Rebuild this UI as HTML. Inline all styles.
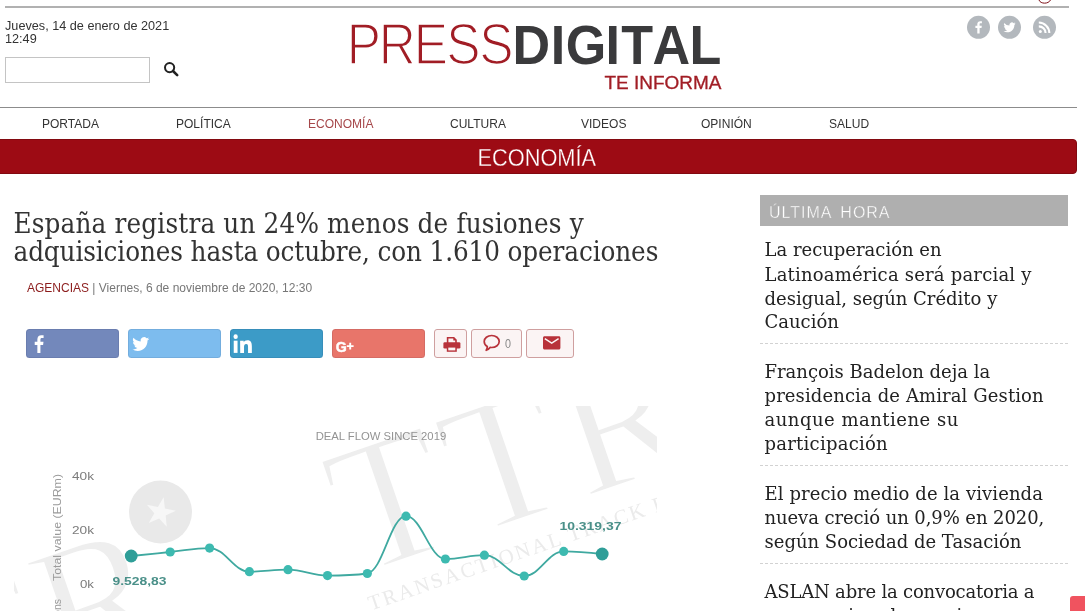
<!DOCTYPE html>
<html lang="es">
<head>
<meta charset="utf-8">
<title>España registra un 24% menos de fusiones y adquisiciones hasta octubre, con 1.610 operaciones</title>
<style>
html,body{margin:0;padding:0;background:#fff;}
body{width:1085px;height:611px;overflow:hidden;position:relative;font-family:"Liberation Sans",sans-serif;}
.abs{position:absolute;white-space:nowrap;}
.sx{transform-origin:0 50%;}
/* header */
#topline{left:5px;top:6px;width:1064px;height:2px;background:#b1b1b1;}
#date{left:5px;top:18.7px;transform:scaleX(.975);font-size:13px;line-height:13px;color:#333;}
#search{left:5px;top:57px;width:143px;height:24px;border:1px solid #c4c4c4;background:#fff;}
#navline{left:0;top:107px;width:1077px;height:1px;background:#8c8c8c;}
.nav{top:116px;font-size:13px;line-height:15px;color:#333;}
#bar{left:-2px;top:139px;width:1077px;height:33px;background:#9d0b14;border:1px solid #820910;border-radius:0 4px 4px 0;}
/* article */
.h1{left:13.5px;font-family:"DejaVu Serif Condensed","DejaVu Serif",serif;font-size:27.5px;line-height:30px;color:#333;}
#meta{left:27px;top:281px;font-size:12px;line-height:14px;color:#777;}
#meta b{font-weight:normal;color:#8c1c1c;}
.sh{top:329px;height:27px;width:91px;border-radius:3.500px;border:1px solid rgba(0,0,40,.08);}
.sb{top:329px;height:27px;border:1px solid #cf9f9f;background:#fbf4f4;border-radius:3px;}
/* sidebar */
#uh{left:760px;top:195px;width:308px;height:31px;background:#afafaf;}
.sl{left:764.5px;font-family:"DejaVu Serif",serif;font-size:18px;line-height:24px;color:#222;}
.sep{left:760px;width:308px;height:0;border-top:1px dashed #d2d2d2;}
</style>
</head>
<body>
<div class="abs" id="topline"></div>
<div class="abs sx" id="date">Jueves, 14 de enero de 2021<br>12:49</div>
<div class="abs" id="search"></div>
<div class="abs" id="navline"></div>
<div class="abs" id="bar"></div>

<!-- search icon -->
<svg class="abs" style="left:163px;top:61px" width="17" height="17" viewBox="0 0 17 17"><circle cx="6.6" cy="6.6" r="4.6" fill="none" stroke="#222" stroke-width="2"/><path d="M10 10 L14.2 14.2" stroke="#222" stroke-width="2.6" stroke-linecap="round"/></svg>
<!-- logo -->
<svg class="abs" style="left:340px;top:10px" width="400" height="90" viewBox="340 10 400 90">
<text transform="translate(0 64.200) scale(.8861 1)" x="391.320 427.400 466.990 503.620 540.810" y="0" font-family="Liberation Sans, sans-serif" font-size="58" fill="#a11d25" stroke="#fff" stroke-width="1.700" paint-order="fill stroke">PRESS</text>
<text transform="translate(0 63.500) scale(.9444 1)" x="542.780 583.210 599.110 641.130 657.710 690.850 729.990" y="0" font-family="Liberation Sans, sans-serif" font-size="55.200" font-weight="bold" fill="#3a3a3c">DIGITAL</text>
<text x="604.5" y="89.3" font-family="Liberation Sans, sans-serif" font-size="18" fill="#a11d25" stroke="#a11d25" stroke-width=".3" textLength="117" lengthAdjust="spacingAndGlyphs">TE INFORMA</text>
</svg>
<!-- social round icons -->
<svg class="abs" style="left:960px;top:10px" width="110" height="40" viewBox="960 10 110 40">
<circle cx="978.5" cy="27.3" r="11.5" fill="#b3b8bd"/>
<circle cx="1009.5" cy="27.3" r="11.5" fill="#b3b8bd"/>
<circle cx="1044.5" cy="27.3" r="11.5" fill="#b3b8bd"/>
<path d="M979.6 33.5v-5.6h1.9l.3-2.2h-2.2v-1.4c0-.6.2-1 1.100-1h1.200v-2c-.2 0-.9-.1-1.700-.1-1.700 0-2.900 1-2.900 2.900v1.600h-1.900v2.200h1.900v5.600z" fill="#fff"/>
<path d="M1015.600 23.600c-.45.200-.93.330-1.430.400.520-.310.910-.800 1.100-1.380-.480.290-1.020.490-1.580.600a2.500 2.500 0 0 0-4.260 2.280 7.100 7.100 0 0 1-5.150-2.610 2.500 2.500 0 0 0 .77 3.340 2.500 2.500 0 0 1-1.130-.310v.03c0 1.210.86 2.220 2 2.450a2.500 2.500 0 0 1-1.130.04 2.500 2.500 0 0 0 2.340 1.740 5.020 5.020 0 0 1-3.700 1.030 7.080 7.080 0 0 0 3.830 1.120c4.600 0 7.110-3.810 7.110-7.110v-.32c.49-.35.910-.790 1.250-1.290z" fill="#fff"/>
<g fill="#fff"><circle cx="1040.300" cy="31.600" r="1.500"/><path d="M1038.800 25.300v2.100a5.700 5.700 0 0 1 5.700 5.700h2.100a7.800 7.800 0 0 0-7.800-7.800z"/><path d="M1038.800 21.500v2.100a9.500 9.500 0 0 1 9.500 9.500h2.100c0-6.400-5.200-11.600-11.600-11.600z"/></g>
</svg>
<!-- top right red glyph remnant -->
<svg class="abs" style="left:1030px;top:0" width="30" height="6" viewBox="0 0 30 6"><path d="M9 0 C10.500 4.200 18.500 4.200 20.500 0" fill="none" stroke="#7d1018" stroke-width="1"/></svg>
<!-- nav -->
<div class="abs nav sx" style="left:42.400px;transform:scaleX(.925)">PORTADA</div>
<div class="abs nav sx" style="left:176.200px;transform:scaleX(.925)">POLÍTICA</div>
<div class="abs nav sx" style="left:307.800px;transform:scaleX(.925);color:#a6474a">ECONOMÍA</div>
<div class="abs nav sx" style="left:449.800px;transform:scaleX(.925)">CULTURA</div>
<div class="abs nav sx" style="left:581px;transform:scaleX(.925)">VIDEOS</div>
<div class="abs nav sx" style="left:701px;transform:scaleX(.925)">OPINIÓN</div>
<div class="abs nav sx" style="left:828.600px;transform:scaleX(.925)">SALUD</div>
<svg class="abs" style="left:440px;top:139px" width="200" height="34" viewBox="440 139 200 34"><text x="477.500" y="165.900" font-family="Liberation Sans, sans-serif" font-size="24.500" fill="#fff" stroke="#9d0b14" stroke-width=".3" paint-order="fill stroke" textLength="118.500" lengthAdjust="spacingAndGlyphs">ECONOMÍA</text></svg>
<!-- headline -->
<div class="abs h1" id="h1a" style="top:207.500px;letter-spacing:.17px">España registra un 24% menos de fusiones y</div>
<div class="abs h1" id="h1b" style="top:235.700px;letter-spacing:-.11px">adquisiciones hasta octubre, con 1.610 operaciones</div>
<div class="abs" id="meta"><b>AGENCIAS</b> | Viernes, 6 de noviembre de 2020, 12:30</div>

<!-- share buttons -->
<div class="abs sh" style="left:26px;background:#7388bb"></div>
<div class="abs sh" style="left:128px;background:#7dbcee"></div>
<div class="abs sh" style="left:230px;background:#3c9bc7"></div>
<div class="abs sh" style="left:332px;background:#e8756a"></div>
<div class="abs sb" style="left:434px;width:31px"></div>
<div class="abs sb" style="left:471px;width:49px"></div>
<div class="abs sb" style="left:526px;width:46px"></div>
<svg class="abs" style="left:20px;top:325px" width="560" height="38" viewBox="20 325 560 38">
<!-- facebook f -->
<path transform="translate(39.250 343.950) scale(1.020 1.100) translate(-40.450 -344)" d="M38.600 352.300v-7.300h-2.600v-2.900h2.600v-2.200c0-2.500 1.500-3.900 3.800-3.900 1.100 0 2 .1 2.300.1v2.600h-1.600c-1.200 0-1.500.6-1.500 1.500v1.900h3l-.4 2.900h-2.600v7.300z" fill="#fff"/>
<!-- twitter bird -->
<path d="M149.200 338.800c-.62.280-1.290.460-1.990.550.720-.430 1.270-1.110 1.530-1.920-.67.400-1.410.69-2.200.84a3.470 3.470 0 0 0-5.910 3.160 9.850 9.850 0 0 1-7.150-3.620 3.470 3.470 0 0 0 1.070 4.630 3.460 3.460 0 0 1-1.570-.43v.04c0 1.680 1.200 3.080 2.780 3.400a3.480 3.480 0 0 1-1.570.06 3.470 3.470 0 0 0 3.240 2.410 6.960 6.960 0 0 1-5.130 1.430 9.820 9.820 0 0 0 5.320 1.560c6.380 0 9.870-5.290 9.870-9.870v-.45c.68-.49 1.260-1.100 1.730-1.790z" fill="#fff"/>
<!-- linkedin in -->
<g fill="#fff" transform="translate(243 343.900) scale(1.030 1.110) translate(-243 -344.200)"><rect x="234" y="341.300" width="3.700" height="11"/><circle cx="235.850" cy="337.700" r="2.100"/><path d="M240.200 341.300h3.500v1.500c.5-.9 1.700-1.800 3.500-1.800 3.700 0 4.400 2.400 4.400 5.600v5.700h-3.700v-5c0-1.300 0-2.900-1.800-2.900s-2.100 1.400-2.100 2.800v5.100h-3.700z"/></g>
<!-- google plus -->
<text x="335.800" y="351.700" font-family="Liberation Sans, sans-serif" font-weight="bold" font-size="15.500" fill="#fff" stroke="#fff" stroke-width=".5" textLength="11" lengthAdjust="spacingAndGlyphs">G</text>
<path d="M346.800 346.100h6.800M350.200 342.700v6.800" stroke="#fff" stroke-width="1.900" fill="none"/>
<!-- print -->
<g fill="#b8323a"><path d="M446.800 337h7.300l2.700 2.700v3.300h-1.600v-2.600h-1.900v-1.900h-4.900v4.500h-1.600z"/><rect x="443.400" y="342.300" width="17" height="6.200" rx="1.300"/><path d="M446.800 346.400h10v5.400h-10z" fill="#b8323a"/><rect x="448.300" y="347.600" width="7" height="2.800" fill="#fbf4f4"/></g>
<!-- comment -->
<path d="M491.700 335.500c4.200 0 7.500 2.700 7.500 6s-3.300 6-7.500 6c-.5 0-1-.05-1.500-.12-1.100 1.300-2.500 2.400-4 2.900.7-1.100 1.100-2.400 1.100-3.700-1.900-1.100-3.100-2.900-3.100-5.080 0-3.300 3.300-6 7.500-6z" fill="none" stroke="#b8323a" stroke-width="1.700" stroke-linejoin="round"/>
<text x="505" y="347.600" font-family="Liberation Sans, sans-serif" font-size="12" fill="#888" textLength="6" lengthAdjust="spacingAndGlyphs">0</text>
<!-- mail -->
<path d="M544.500 336.200h14.400c.8 0 1.500.7 1.500 1.500v10.300c0 .8-.7 1.500-1.500 1.500h-14.400c-.8 0-1.500-.7-1.500-1.500v-10.300c0-.8.700-1.500 1.500-1.500z" fill="#b8323a"/>
<path d="M544.800 338.700l6.900 4.500 6.900-4.500" fill="none" stroke="#fbf4f4" stroke-width="1.500"/>
</svg>

<!-- chart image -->
<svg class="abs" style="left:0;top:370px" width="700" height="241" viewBox="0 370 700 241">
<defs><clipPath id="wm"><rect x="14" y="406" width="643" height="210"/></clipPath></defs>
<g clip-path="url(#wm)" fill="#eeeeee" font-family="Liberation Serif, serif">
<g transform="rotate(-19 410 558)">
<text x="353.500" y="558" font-size="185" letter-spacing="7" stroke="#fff" stroke-width="3.500">TTR</text>
<text x="356" y="595" font-size="21" letter-spacing="2.200" fill="#ebebeb">TRANSACTIONAL TRACK RECORD</text>
<text x="-200" y="558" font-size="185" letter-spacing="7" stroke="#fff" stroke-width="3.500">TTR</text>
</g>
</g>
<circle cx="160.500" cy="512" r="31.500" fill="#e9e9e9"/>
<path d="M160.500 497l3.600 10.600 11.200.1-9 6.700 3.400 10.700-9.200-6.500-9.200 6.500 3.400-10.700-9-6.700 11.200-.1z" fill="#f7f7f7" transform="rotate(12 160.500 512)"/>
<g font-family="Liberation Sans, sans-serif" font-size="11.500" fill="#7c7c7c">
<text x="72" y="479.500" textLength="22" lengthAdjust="spacingAndGlyphs">40k</text>
<text x="72" y="533.500" textLength="22" lengthAdjust="spacingAndGlyphs">20k</text>
<text x="80" y="587.800" textLength="14" lengthAdjust="spacingAndGlyphs">0k</text>
<text transform="translate(61 581) rotate(-90)" fill="#9a9a9a" font-size="10.500" textLength="107" lengthAdjust="spacingAndGlyphs">Total value (EURm)</text>
<text transform="translate(61 599) rotate(-90)" fill="#9a9a9a" font-size="10.500" text-anchor="end">Transactions</text>
<text x="315.700" y="439.500" font-size="10.500" fill="#939393" textLength="130.500" lengthAdjust="spacingAndGlyphs">DEAL FLOW SINCE 2019</text>
</g>
<path d="M131.2 556.0 C131.2 556.0 154.6 553.6 170.2 552.0 C186.0 550.4 193.8 548.1 209.6 548.1 C225.5 548.1 233.5 571.7 249.4 571.7 C264.8 571.7 272.6 569.7 288.0 569.7 C303.8 569.7 311.7 575.6 327.5 575.6 C343.4 575.6 351.4 575.6 367.3 573.5 C382.8 571.4 390.5 516.2 406.0 516.2 C421.8 516.2 429.6 559.0 445.4 559.0 C461.0 559.0 468.8 555.2 484.4 555.2 C500.3 555.2 508.3 576.0 524.2 576.0 C540.0 576.0 547.9 551.4 563.7 551.4 C579.1 551.4 602.2 554.0 602.2 554.0" fill="none" stroke="#3fa9a0" stroke-width="1.800"/>
<g fill="#3dbab0"><circle cx="170.2" cy="552.0" r="4.6"/><circle cx="209.6" cy="548.1" r="4.6"/><circle cx="249.4" cy="571.7" r="4.6"/><circle cx="288.0" cy="569.7" r="4.6"/><circle cx="327.5" cy="575.6" r="4.6"/><circle cx="367.3" cy="573.5" r="4.6"/><circle cx="406.0" cy="516.2" r="4.6"/><circle cx="445.4" cy="559.0" r="4.6"/><circle cx="484.4" cy="555.2" r="4.6"/><circle cx="524.2" cy="576.0" r="4.6"/><circle cx="563.7" cy="551.4" r="4.6"/></g>
<circle cx="131.200" cy="556" r="6.400" fill="#2f9e98"/>
<circle cx="602.200" cy="554" r="6.400" fill="#2f9e98"/>
<g font-family="Liberation Sans, sans-serif" font-weight="bold" font-size="11.500" fill="#4a9089">
<text x="112.500" y="585" textLength="54" lengthAdjust="spacingAndGlyphs">9.528,83</text>
<text x="559.400" y="530.200" textLength="62" lengthAdjust="spacingAndGlyphs">10.319,37</text>
</g>
</svg>

<!-- sidebar -->
<div class="abs" id="uh"></div>
<svg class="abs" style="left:760px;top:195px" width="308" height="31" viewBox="760 195 308 31"><text x="769" y="217.700" font-family="Liberation Sans, sans-serif" font-size="16" fill="#fff" stroke="#afafaf" stroke-width=".35" paint-order="fill stroke" word-spacing="3.500" textLength="120.500" lengthAdjust="spacing">ÚLTIMA HORA</text></svg>
<div class="abs sl" style="top:238.400px">La recuperación en</div>
<div class="abs sl" style="top:262.500px;letter-spacing:.2px">Latinoamérica será parcial y</div>
<div class="abs sl" style="top:286.600px">desigual, según Crédito y</div>
<div class="abs sl" style="top:310.400px">Caución</div>
<div class="abs sep" style="top:343px"></div>
<div class="abs sl" style="top:360.400px">François Badelon deja la</div>
<div class="abs sl" style="top:384.200px;letter-spacing:.11px">presidencia de Amiral Gestion</div>
<div class="abs sl" style="top:408.200px;letter-spacing:.5px">aunque mantiene su</div>
<div class="abs sl" style="top:432px;letter-spacing:.25px">participación</div>
<div class="abs sep" style="top:465px"></div>
<div class="abs sl" style="top:482.100px;letter-spacing:.09px">El precio medio de la vivienda</div>
<div class="abs sl" style="top:505.900px;letter-spacing:-.08px">nueva creció un 0,9% en 2020,</div>
<div class="abs sl" style="top:530px">según Sociedad de Tasación</div>
<div class="abs sep" style="top:562.500px"></div>
<div class="abs sl" style="top:580px;letter-spacing:-.19px">ASLAN abre la convocatoria a</div>
<div class="abs sl" style="top:604px;width:290px;overflow:hidden">sus premios al negocio en su</div>
<div class="abs" style="left:1070px;top:596px;width:20px;height:20px;background:#f0535f;border-radius:3px 0 0 0"></div>
</body>
</html>
